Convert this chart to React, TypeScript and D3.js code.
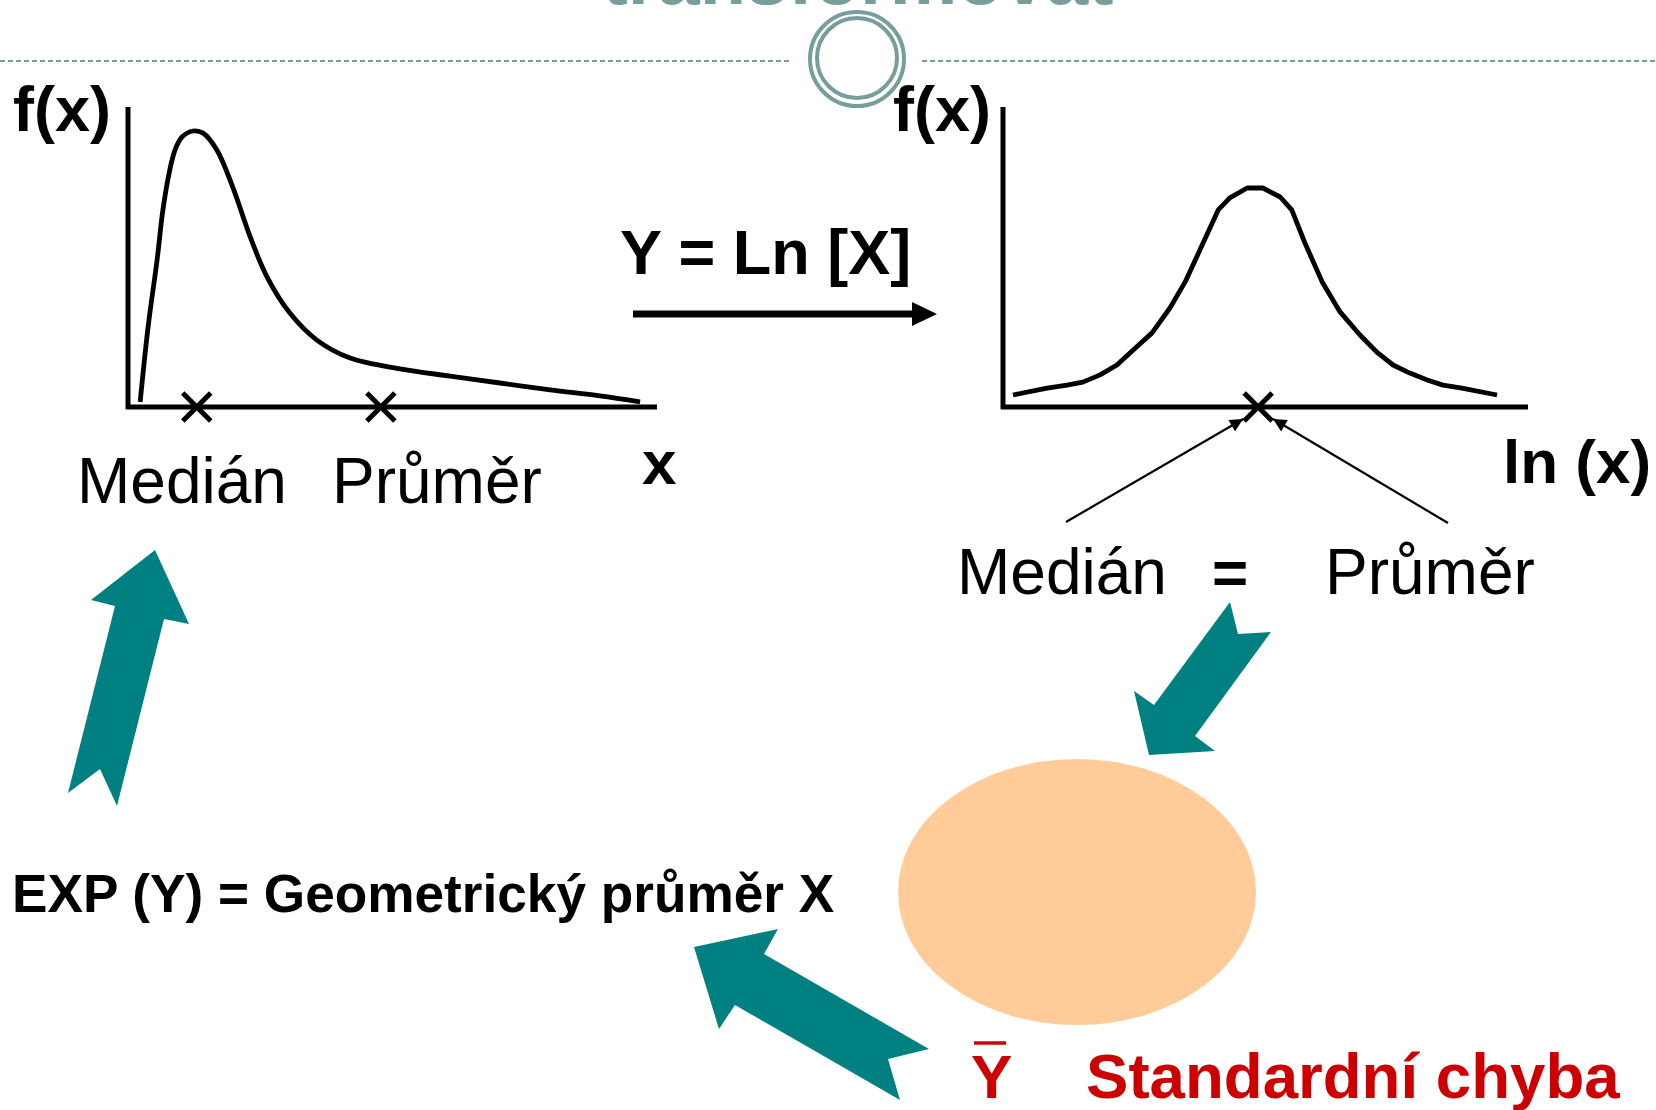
import React from "react";
import * as d3 from "d3";

// ---------- data ----------
// Left panel: skewed (log-normal like) density, x and f(x) in relative units 0..100
const skewX = [2.3, 3.8, 5.5, 6.6, 7.9, 8.9, 10.2, 12.3, 14.2, 16.8, 19.8, 23.1, 26.3, 30.6, 35.7, 42, 51.4, 60.9, 70.3, 79.8, 89.2, 96.8];
const skewY = [1.7, 26.7, 49, 65.7, 79, 85.7, 90, 92, 91.3, 85.7, 73.3, 56.7, 43.3, 31.3, 22.3, 16.3, 12.7, 10.3, 8, 5.7, 3.7, 1.7];
const skewMarks = [13.0, 47.8]; // Medián, Průměr
const skewLabels = ["Medián", "Průměr"];

// Right panel: symmetric density after ln transform
const bellX = [1.9, 8.4, 12.2, 15.2, 18.5, 21.7, 24.8, 28.4, 31.8, 34.7, 37.5, 41, 43.2, 46.5, 49.5, 52.8, 55, 57.5, 60.8, 64.2, 68, 71.2, 74.3, 77.5, 80.8, 83.8, 87.4, 94.1];
const bellY = [4, 6.3, 7.3, 8.3, 10.7, 14, 19, 24.7, 33, 41.7, 52.3, 65.7, 69.7, 73, 73, 70, 65.7, 54.7, 41.7, 31.7, 24, 18.3, 14, 11.3, 9, 7.3, 6.3, 4];
const bellMark = [48.6];

// Texts
const titleText = "transformovat";
const fxLabel = "f(x)";
const transformLabel = "Y = Ln [X]";
const xAxisLeftLabel = "x";
const xAxisRightLabel = "ln (x)";
const equalsLabel = "=";
const backTransformLabel = "EXP (Y) = Geometrický průměr X";
const seLabel = "Standardní chyba";

const FONT = "'Liberation Sans', Arial, Helvetica, sans-serif";
const TEAL = "#008080";
const GREY_TEAL = "#789E9C";
const RED = "#CC0000";

function Cross({ x, y, s = 14 }: { x: number; y: number; s?: number }) {
  return (
    <g stroke="#000" strokeWidth={5}>
      <line x1={x - s} y1={y - s} x2={x + s} y2={y + s} />
      <line x1={x - s} y1={y + s} x2={x + s} y2={y - s} />
    </g>
  );
}

export default function App() {
  // left panel scales
  const lx = d3.scaleLinear().domain([0, 100]).range([128, 657]);
  const ly = d3.scaleLinear().domain([0, 100]).range([407, 107]);
  // right panel scales
  const rx = d3.scaleLinear().domain([0, 100]).range([1003, 1528]);
  const ry = d3.scaleLinear().domain([0, 100]).range([407, 107]);

  const skewLine = d3
    .line<number>()
    .x((_, i) => lx(skewX[i]))
    .y((d) => ly(d))
    .curve(d3.curveCatmullRom.alpha(0.5));
  const bellLine = d3
    .line<number>()
    .x((_, i) => rx(bellX[i]))
    .y((d) => ry(d))
    .curve(d3.curveLinear);

  const rMarkX = rx(bellMark[0]);
  const rMarkY = ry(0);

  const poly = (pts: number[][]) => pts.map((p) => p.join(",")).join(" ");

  return (
    <svg
      width={1656}
      height={1110}
      viewBox="0 0 1656 1110"
      style={{ position: "absolute", left: 0, top: 0, display: "block", background: "#fff" }}
      fontFamily={FONT}
    >
      <rect x={0} y={0} width={1656} height={1110} fill="#fff" />

      {/* clipped title (only the lower edge is visible, as in the reference) */}
      <text x={858} y={4} textAnchor="middle" fontSize={76} fontWeight="bold" fill={GREY_TEAL}>
        {titleText}
      </text>

      {/* header divider with double circle */}
      <line x1={0} y1={61} x2={792} y2={61} stroke={GREY_TEAL} strokeWidth={2} strokeDasharray="5,3" />
      <line x1={922} y1={61} x2={1656} y2={61} stroke={GREY_TEAL} strokeWidth={2} strokeDasharray="5,3" />
      <circle cx={857} cy={59} r={47} fill="#fff" stroke={GREY_TEAL} strokeWidth={4} />
      <circle cx={857} cy={58} r={40} fill="none" stroke={GREY_TEAL} strokeWidth={4} />

      {/* ---------- left panel ---------- */}
      <text x={13} y={131} fontSize={63} fontWeight="bold">{fxLabel}</text>
      <line x1={lx(0)} y1={ly(0) + 2} x2={lx(0)} y2={ly(100)} stroke="#000" strokeWidth={5} />
      <line x1={lx(0) - 2} y1={ly(0)} x2={lx(100)} y2={ly(0)} stroke="#000" strokeWidth={5} />
      <path d={skewLine(skewY) || ""} fill="none" stroke="#000" strokeWidth={4.8} strokeLinejoin="round" />
      {skewMarks.map((m, i) => (
        <Cross key={i} x={lx(m)} y={ly(0)} />
      ))}
      <text x={77} y={503} fontSize={64}>{skewLabels[0]}</text>
      <text x={332} y={503} fontSize={64}>{skewLabels[1]}</text>
      <text x={642} y={484} fontSize={62} fontWeight="bold">{xAxisLeftLabel}</text>

      {/* transform arrow */}
      <text x={620} y={274} fontSize={63} fontWeight="bold">{transformLabel}</text>
      <line x1={633} y1={314} x2={915} y2={314} stroke="#000" strokeWidth={7} />
      <polygon points={poly([[912, 302], [937, 314], [912, 326]])} fill="#000" />

      {/* ---------- right panel ---------- */}
      <text x={893} y={131} fontSize={63} fontWeight="bold">{fxLabel}</text>
      <line x1={rx(0)} y1={ry(0) + 2} x2={rx(0)} y2={ry(100)} stroke="#000" strokeWidth={5} />
      <line x1={rx(0) - 2} y1={ry(0)} x2={rx(100)} y2={ry(0)} stroke="#000" strokeWidth={5} />
      <path d={bellLine(bellY) || ""} fill="none" stroke="#000" strokeWidth={4.8} strokeLinejoin="round" />
      <Cross x={rMarkX} y={rMarkY} />
      <text x={1503} y={483} fontSize={62} fontWeight="bold">{xAxisRightLabel}</text>

      {/* pointer arrows to the marker */}
      <defs>
        <marker id="thinHead" viewBox="0 0 10 10" refX={10} refY={5} markerWidth={7} markerHeight={6} orient="auto" markerUnits="strokeWidth">
          <path d="M0,0 L10,5 L0,10 z" fill="#000" />
        </marker>
      </defs>
      <line x1={1066} y1={522} x2={rMarkX - 15} y2={rMarkY + 12} stroke="#000" strokeWidth={2.2} markerEnd="url(#thinHead)" />
      <line x1={1448} y1={523} x2={rMarkX + 15} y2={rMarkY + 12} stroke="#000" strokeWidth={2.2} markerEnd="url(#thinHead)" />

      <text x={957} y={594} fontSize={64}>{skewLabels[0]}</text>
      <text x={1212} y={594} fontSize={62} fontWeight="bold">{equalsLabel}</text>
      <text x={1325} y={594} fontSize={64}>{skewLabels[1]}</text>

      {/* teal block arrows */}
      <polygon
        points={poly([[155, 550], [189, 624], [164, 619], [117, 806], [100, 769], [68, 793], [115, 606], [91, 600]])}
        fill={TEAL}
      />
      <polygon
        points={poly([[1230, 602], [1238, 634], [1271, 632], [1195, 736], [1215, 751], [1149, 755], [1134, 691], [1154, 705]])}
        fill={TEAL}
      />
      <polygon
        points={poly([[694, 947], [778, 929], [764, 954], [929, 1049], [888, 1059], [900, 1100], [735, 1005], [719, 1029]])}
        fill={TEAL}
      />

      {/* peach ellipse */}
      <ellipse cx={1077} cy={892} rx={179} ry={133} fill="#FFCC99" />

      {/* bottom texts */}
      <text x={12} y={912} fontSize={53.2} fontWeight="bold">{backTransformLabel}</text>
      <text x={971} y={1098} fontSize={62} fontWeight="bold" fill={RED}>Y</text>
      <line x1={974} y1={1043} x2={1006} y2={1043} stroke={RED} strokeWidth={3.5} />
      <text x={1086} y={1098} fontSize={63.6} fontWeight="bold" fill={RED}>{seLabel}</text>
    </svg>
  );
}
